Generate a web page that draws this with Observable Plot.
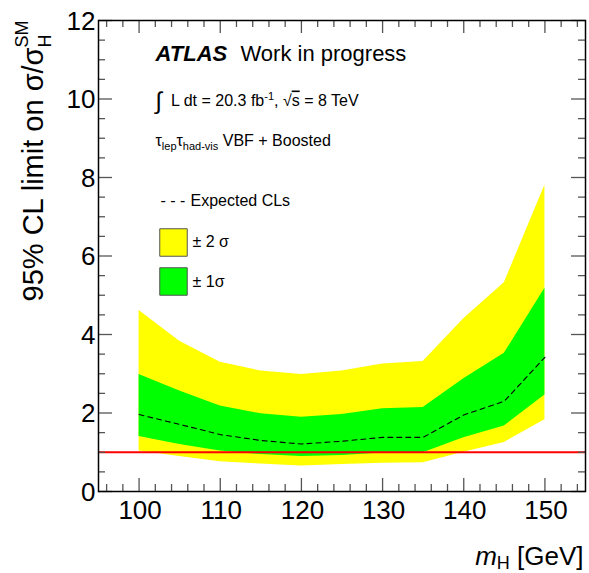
<!DOCTYPE html>
<html><head><meta charset="utf-8">
<script src="https://cdn.jsdelivr.net/npm/d3@7"></script>
<script src="https://cdn.jsdelivr.net/npm/@observablehq/plot@0.6"></script>
<style>
html,body{margin:0;padding:0;background:#fff;}
#chart svg{display:block;font-family:"Liberation Sans",Arial,Helvetica,sans-serif;}
</style></head><body><div id="chart"></div>
<script>
// ---- data ----
const mass     = [100, 105, 110, 115, 120, 125, 130, 135, 140, 145, 150];
const expected = [1.96, 1.71, 1.45, 1.30, 1.21, 1.28, 1.38, 1.38, 1.95, 2.30, 3.42];
const plus1    = [2.98, 2.56, 2.18, 1.98, 1.89, 1.96, 2.11, 2.14, 2.87, 3.52, 5.18];
const minus1   = [1.40, 1.20, 1.03, 0.94, 0.89, 0.92, 0.98, 0.99, 1.37, 1.67, 2.46];
const plus2    = [4.61, 3.83, 3.29, 3.07, 2.98, 3.07, 3.25, 3.31, 4.40, 5.32, 7.80];
const minus2   = [1.03, 0.89, 0.76, 0.70, 0.65, 0.69, 0.72, 0.73, 1.00, 1.25, 1.83];
const smReference = [1];
const xMajorTicks = [100, 110, 120, 130, 140, 150];
const xMinorTicks = [96, 98, 102, 104, 106, 108, 112, 114, 116, 118, 122, 124, 126, 128, 132, 134, 136, 138, 142, 144, 146, 148, 152, 154];
const yMajorTicks = [0, 2, 4, 6, 8, 10, 12];
const yMinorTicks = [0.5, 1, 1.5, 2.5, 3, 3.5, 4.5, 5, 5.5, 6.5, 7, 7.5, 8.5, 9, 9.5, 10.5, 11, 11.5];
const xDomain = [95, 155];
const yDomain = [0, 12];

// ---- layout ----
const W = 589, H = 573;
const M = {top: 20, right: 4, bottom: 82, left: 98};
const fw = W - M.left - M.right, fh = H - M.top - M.bottom;
const tickCol = "#555";
const font = "Liberation Sans, Arial, Helvetica, sans-serif";

const rows = mass.map((m, i) => ({m, exp: expected[i], p1: plus1[i], m1: minus1[i], p2: plus2[i], m2: minus2[i]}));

const txt = (s, o) => Plot.text([s], {text: d => d, frameAnchor: "top-left", textAnchor: "start", lineAnchor: "bottom", fill: "black", fontFamily: font, ...o});

const plot = Plot.plot({
  width: W, height: H,
  marginTop: M.top, marginRight: M.right, marginBottom: M.bottom, marginLeft: M.left,
  x: {domain: xDomain, axis: null},
  y: {domain: yDomain, axis: null},
  style: {background: "white", fontFamily: font},
  marks: [
    Plot.areaY(rows, {x: "m", y1: "m2", y2: "p2", fill: "#ffff00"}),
    Plot.areaY(rows, {x: "m", y1: "m1", y2: "p1", fill: "#00ff00"}),
    Plot.line(rows, {x: "m", y: "exp", stroke: "black", strokeWidth: 1.1, strokeDasharray: "5,4"}),
    Plot.ruleY(smReference, {y: d => d, stroke: "#ff0000", strokeWidth: 2}),
    // ticks, inward on all four sides
    Plot.tickX(xMajorTicks, {x: d => d, insetTop: fh - 13, stroke: tickCol, strokeWidth: 1.3}),
    Plot.tickX(xMajorTicks, {x: d => d, insetBottom: fh - 13, stroke: tickCol, strokeWidth: 1.3}),
    Plot.tickX(xMinorTicks, {x: d => d, insetTop: fh - 7, stroke: tickCol, strokeWidth: 1.3}),
    Plot.tickX(xMinorTicks, {x: d => d, insetBottom: fh - 7, stroke: tickCol, strokeWidth: 1.3}),
    Plot.tickY(yMajorTicks, {y: d => d, insetRight: fw - 14, stroke: tickCol, strokeWidth: 1.3}),
    Plot.tickY(yMajorTicks, {y: d => d, insetLeft: fw - 14, stroke: tickCol, strokeWidth: 1.3}),
    Plot.tickY(yMinorTicks, {y: d => d, insetRight: fw - 7, stroke: tickCol, strokeWidth: 1.3}),
    Plot.tickY(yMinorTicks, {y: d => d, insetLeft: fw - 7, stroke: tickCol, strokeWidth: 1.3}),
    Plot.frame({stroke: "black", strokeWidth: 1.5}),
    // tick labels
    Plot.text(xMajorTicks, {x: d => d, text: d => String(d), frameAnchor: "bottom", dy: 9, dx: 1, lineAnchor: "top", fontSize: 26, fill: "black", fontFamily: font}),
    Plot.text(yMajorTicks, {y: d => d, text: d => String(d), frameAnchor: "left", dx: -3, dy: 1, textAnchor: "end", lineAnchor: "middle", fontSize: 26, fill: "black", fontFamily: font}),
    // axis titles
    Plot.text(["95% CL limit on σ/σ_H^SM"], {text: d => d, frameAnchor: "top-left", dx: -56, dy: 0, rotate: -90, textAnchor: "end", lineAnchor: "bottom", fontSize: 29, fill: "black", fontFamily: font}),
    Plot.text(["m_H [GeV]"], {text: d => d, frameAnchor: "bottom-right", dx: -2, dy: 73, textAnchor: "end", lineAnchor: "bottom", fontSize: 26, fill: "black", fontFamily: font}),
    // annotations
    txt("ATLAS", {dx: 57, dy: 40.5, fontSize: 22, fontWeight: "bold", fontStyle: "italic"}),
    txt("Work in progress", {dx: 142, dy: 40.5, fontSize: 22}),
    txt("∫ L dt = 20.3 fb^-1, √s = 8 TeV", {dx: 57, dy: 85, fontSize: 16}),
    txt("τ_lep τ_had-vis VBF + Boosted", {dx: 57, dy: 125, fontSize: 16}),
    // legend
    txt("- - -", {dx: 62, dy: 185, fontSize: 16}),
    txt("Expected CLs", {dx: 92, dy: 185, fontSize: 16}),
    Plot.dot([0], {frameAnchor: "top-left", dx: 75, dy: 222, symbol: "square", r: 15.5, fill: "#ffff00", stroke: "#555", strokeWidth: 1}),
    Plot.dot([0], {frameAnchor: "top-left", dx: 75, dy: 261, symbol: "square", r: 15.5, fill: "#00ff00", stroke: "#555", strokeWidth: 1}),
    txt("± 2 σ", {dx: 94, dy: 226.5, fontSize: 16}),
    txt("± 1σ", {dx: 94, dy: 266, fontSize: 16})
  ]
});

// ---- rich text (sub/superscripts) ----
const richText = {
  "95% CL limit on σ/σ_H^SM": [
    {t: "95% CL limit on σ/σ"},
    {t: "H", size: 18, shift: 8},
    {t: "SM", size: 18, shift: -15, dx: -13}
  ],
  "m_H [GeV]": [
    {t: "m", style: "italic"},
    {t: "H", size: 18, shift: 4},
    {t: " [GeV]", shift: 0}
  ],
  "∫ L dt = 20.3 fb^-1, √s = 8 TeV": [
    {t: "∫", size: 24, shift: 3},
    {t: "  L dt = 20.3 fb", shift: 0},
    {t: "-1", size: 11, shift: -6},
    {t: ", √", shift: 0},
    {t: "s", deco: "overline"},
    {t: " = 8 TeV"}
  ],
  "τ_lep τ_had-vis VBF + Boosted": [
    {t: "τ"},
    {t: "lep", size: 11, shift: 4},
    {t: "τ", shift: 0},
    {t: "had-vis", size: 11, shift: 4},
    {t: " VBF + Boosted", shift: 0}
  ]
};
const NS = "http://www.w3.org/2000/svg";
plot.querySelectorAll("text").forEach(el => {
  const segs = richText[el.textContent];
  if (!segs) return;
  while (el.firstChild) el.removeChild(el.firstChild);
  let cur = 0;
  for (const s of segs) {
    const ts = document.createElementNS(NS, "tspan");
    ts.textContent = s.t;
    const target = s.shift === undefined ? cur : s.shift;
    if (target !== cur) ts.setAttribute("dy", target - cur);
    cur = target;
    if (s.dx) ts.setAttribute("dx", s.dx);
    if (s.size) ts.setAttribute("font-size", s.size);
    if (s.style) ts.setAttribute("font-style", s.style);
    if (s.deco) ts.setAttribute("text-decoration", s.deco);
    if (s.t.startsWith("  ")) ts.setAttribute("xml:space", "preserve");
    el.appendChild(ts);
  }
});

document.getElementById("chart").appendChild(plot);
</script>
</body></html>
